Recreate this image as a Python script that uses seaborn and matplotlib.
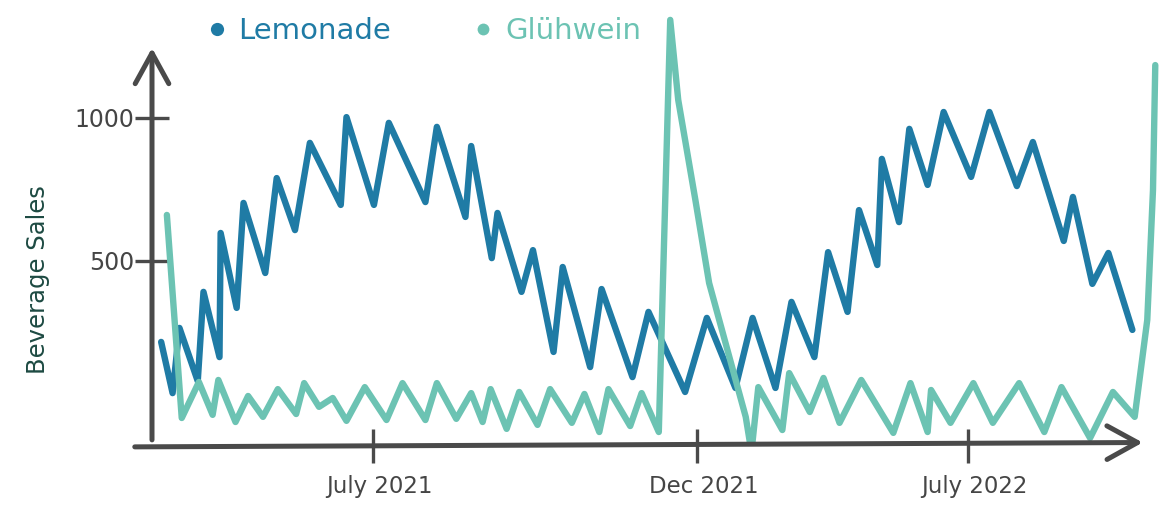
import matplotlib
matplotlib.use("Agg")
import matplotlib.pyplot as plt
import matplotlib.transforms as mtransforms
from matplotlib.lines import Line2D
import seaborn as sns
import pandas as pd

# ---------------- data (week index since start, sales) ----------------
lemonade_week = [0.1, 1.1, 1.7, 3.3, 3.8, 5.2, 5.3, 6.7, 7.3, 9.2, 10.2, 11.8, 13.1, 15.8,
                 16.3, 18.7, 20.0, 23.2, 24.2, 26.7, 27.2, 29.0, 29.5, 31.6, 32.6, 34.4,
                 35.2, 37.6, 38.6, 41.3, 42.7, 45.9, 47.8, 50.3, 51.8, 53.8, 55.2, 57.2,
                 58.4, 60.1, 61.1, 62.7, 63.1, 64.6, 65.5, 67.1, 68.5, 70.9, 72.5, 74.9,
                 76.3, 79.0, 79.8, 81.5, 82.9, 85.0]
lemonade_sales = [217, 38, 266, 80, 392, 164, 598, 336, 703, 458, 790, 608, 913, 696,
                  1003, 696, 983, 706, 969, 654, 902, 510, 668, 392, 538, 182,
                  479, 129, 402, 94, 322, 42, 301, 56, 301, 56, 357, 164,
                  531, 322, 678, 486, 857, 636, 962, 766, 1021, 794, 1021, 762,
                  916, 570, 724, 420, 528, 259]

gluehwein_week = [0.6, 1.9, 3.4, 4.6, 5.1, 6.6, 7.7, 9.0, 10.3, 11.9, 12.6, 13.9, 15.1,
                  16.3, 17.9, 19.8, 21.2, 23.2, 24.2, 25.9, 27.2, 28.2, 28.9, 30.3, 31.4,
                  33.0, 34.1, 36.0, 37.1, 38.4, 39.2, 41.1, 42.1, 43.6, 44.6, 45.3, 46.8,
                  48.0, 49.6, 51.2, 51.7, 52.3, 54.4, 55.0, 56.8, 58.0, 59.4, 61.3, 64.1,
                  65.6, 67.1, 67.4, 69.1, 71.1, 72.8, 75.1, 77.3, 78.8, 81.3, 83.3, 85.2,
                  86.3, 86.8, 87.0]
gluehwein_sales = [661, -49, 77, -38, 84, -63, 28, -45, 52, -35, 73, -10, 21,
                   -59, 59, -56, 73, -56, 73, -52, 38, -63, 52, -87, 42,
                   -73, 52, -66, 35, -98, 52, -77, 38, -98, 1343, 1063, 713,
                   423, 189, -45, -168, 59, -91, 108, -28, 91, -66, 84, -101,
                   73, -98, 49, -66, 73, -66, 73, -98, 59, -119, 42, -45,
                   294, 748, 1185]

series_names = ["Lemonade", "Glühwein"]
series_colors = ["#1f7ba5", "#6cc3b3"]

ytick_values = [500, 1000]
ytick_labels = ["500", "1000"]
xtick_values = [18.6, 46.9, 70.6]
xtick_labels = ["July 2021", "Dec 2021", "July 2022"]

df = pd.concat([
    pd.DataFrame({"week": lemonade_week, "sales": lemonade_sales, "beverage": series_names[0]}),
    pd.DataFrame({"week": gluehwein_week, "sales": gluehwein_sales, "beverage": series_names[1]}),
], ignore_index=True)

# ---------------- style ----------------
sns.set_style("white")
plt.rcParams["font.family"] = ["DejaVu Sans"]
AX = "#4a4a4a"
W, H = 1171, 517

fig = plt.figure(figsize=(W / 100, H / 100), dpi=100)
# axes spans pixel x 152..1165, y 10..446 (from top)
ax = fig.add_axes([152 / W, (H - 446) / H, (1165 - 152) / W, (446 - 10) / H])

sns.lineplot(data=df, x="week", y="sales", hue="beverage", hue_order=series_names,
             palette=dict(zip(series_names, series_colors)), estimator=None, sort=False,
             linewidth=4.6, ax=ax, legend=False)
for ln in ax.get_lines():
    ln.set_solid_joinstyle("round")
    ln.set_solid_capstyle("round")

ax.set_xlim(-0.70, 87.85)
ax.set_ylim(-146.9, 1377.6)
for s in ax.spines.values():
    s.set_visible(False)

# hand-drawn-like axis arrows
arrow_kw = dict(arrowstyle="->,head_length=1.0,head_width=0.55", lw=3.6, color=AX,
                mutation_scale=22, shrinkA=0, shrinkB=0, capstyle="round")
ax.annotate("", xy=(0.0, 0.913), xytext=(0.0, 0.014), xycoords="axes fraction",
            arrowprops=arrow_kw, annotation_clip=False)
ax.annotate("", xy=(0.978, 0.008), xytext=(-0.017, -0.002), xycoords="axes fraction",
            arrowprops=arrow_kw, annotation_clip=False)

ax.set_yticks(ytick_values)
ax.set_yticklabels(ytick_labels)
ax.set_xticks(xtick_values)
ax.set_xticklabels(xtick_labels)
ax.tick_params(axis="y", left=True, direction="inout", length=24, width=2.4, color=AX,
               labelsize=17, labelcolor="#454545", pad=1)
ax.tick_params(axis="x", bottom=True, direction="inout", length=24, width=2.4, color=AX,
               labelsize=16.5, labelcolor="#454545", pad=9)
shift = mtransforms.ScaledTranslation(7 / 100, 0, fig.dpi_scale_trans)
for lbl in ax.get_xticklabels():
    lbl.set_transform(lbl.get_transform() + shift)

ax.set_xlabel("")
ax.set_ylabel("Beverage Sales", fontsize=17.5, color="#1d4a42")
ax.yaxis.set_label_coords(-0.101, 0.381)

handles = [Line2D([], [], ls="", marker="o", ms=m, color=c, markeredgewidth=0)
           for c, m in zip(series_colors, [9.5, 8.5])]
leg = fig.legend(handles, series_names, loc="center left",
                 bbox_to_anchor=(205 / W, 1 - 31 / H), ncol=2, frameon=False,
                 fontsize=21, handlelength=0.8, handletextpad=0.35,
                 columnspacing=2.75, borderpad=0, borderaxespad=0)
for t, c in zip(leg.get_texts(), series_colors):
    t.set_color(c)

fig.savefig("out.png", dpi=100)
